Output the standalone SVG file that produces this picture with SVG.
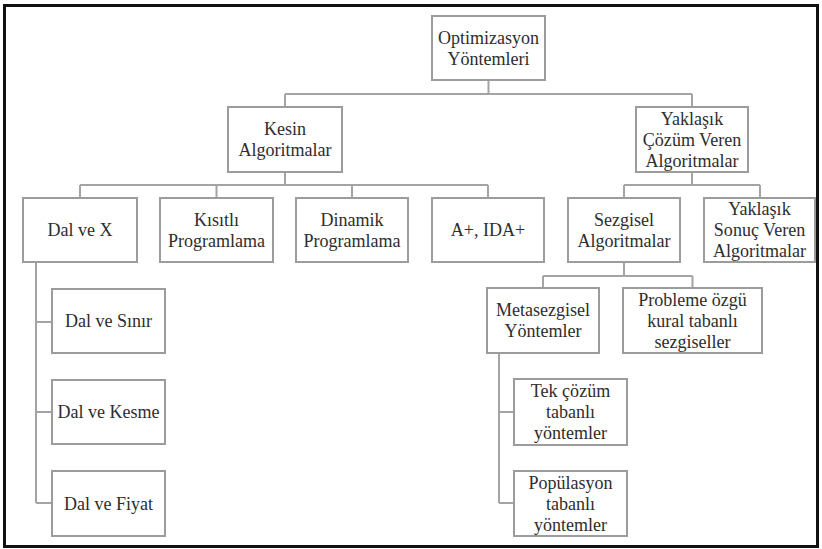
<svg xmlns="http://www.w3.org/2000/svg" width="822" height="549" viewBox="0 0 822 549">
<style>
.bg{fill:#ffffff}
.frame{fill:none;stroke:#111;stroke-width:3}
.box{fill:#ffffff;stroke:#9c9c9c;stroke-width:2}
.conn{fill:none;stroke:#a4a4a4;stroke-width:2}
.t{font-family:'Liberation Serif','Times New Roman',serif;font-size:19px;fill:#2e2e2e;text-anchor:middle}
</style>
<rect class="bg" x="0" y="0" width="822" height="549"/>
<rect class="frame" x="4.5" y="5.5" width="813" height="541"/>
<g id="connectors">
<path class="conn" d="M488.5,80 V94 M285,94 H692 M285,94 V107 M692,94 V107"/>
<path class="conn" d="M285,172 V185 M80,185 H488 M80,185 V198 M216.5,185 V198 M352,185 V198 M488,185 V198"/>
<path class="conn" d="M692,172 V185 M624,185 H760 M624,185 V198 M760,185 V198"/>
<path class="conn" d="M624,262 V276 M543,276 H692.5 M543,276 V288 M692.5,276 V288"/>
<path class="conn" d="M36,262 V503 M36,322 H52 M36,412 H52 M36,503 H52"/>
<path class="conn" d="M499,353 V503 M499,412 H514 M499,503 H514"/>
</g>
<g id="n-optimizasyon"><rect class="box" x="432" y="16" width="113" height="64"/><g class="t" transform="translate(488.5 0) scale(0.95 1)"><text x="0" y="44">Optimizasyon</text><text x="0" y="65">Yöntemleri</text></g></g>
<g id="n-kesin"><rect class="box" x="228" y="107" width="114" height="65"/><g class="t" transform="translate(285 0) scale(0.95 1)"><text x="0" y="135.5">Kesin</text><text x="0" y="156.5">Algoritmalar</text></g></g>
<g id="n-yaklasik-cozum"><rect class="box" x="636" y="107" width="112" height="65"/><g class="t" transform="translate(692 0) scale(0.95 1)"><text x="0" y="125">Yaklaşık</text><text x="0" y="146">Çözüm Veren</text><text x="0" y="167">Algoritmalar</text></g></g>
<g id="n-dalx"><rect class="box" x="23" y="198" width="114" height="64"/><g class="t" transform="translate(80 0) scale(0.95 1)"><text x="0" y="236.5">Dal ve X</text></g></g>
<g id="n-kisitli"><rect class="box" x="160" y="198" width="113" height="64"/><g class="t" transform="translate(216.5 0) scale(0.95 1)"><text x="0" y="226">Kısıtlı</text><text x="0" y="247">Programlama</text></g></g>
<g id="n-dinamik"><rect class="box" x="296" y="198" width="112" height="64"/><g class="t" transform="translate(352 0) scale(0.95 1)"><text x="0" y="226">Dinamik</text><text x="0" y="247">Programlama</text></g></g>
<g id="n-aplus"><rect class="box" x="432" y="198" width="112" height="64"/><g class="t" transform="translate(488 0) scale(0.95 1)"><text x="0" y="236.5">A+, IDA+</text></g></g>
<g id="n-sezgisel"><rect class="box" x="568" y="198" width="112" height="64"/><g class="t" transform="translate(624 0) scale(0.95 1)"><text x="0" y="226">Sezgisel</text><text x="0" y="247">Algoritmalar</text></g></g>
<g id="n-yaklasik-sonuc"><rect class="box" x="704" y="198" width="111" height="64"/><g class="t" transform="translate(759.5 0) scale(0.95 1)"><text x="0" y="215.5">Yaklaşık</text><text x="0" y="236.5">Sonuç Veren</text><text x="0" y="257.5">Algoritmalar</text></g></g>
<g id="n-metasezgisel"><rect class="box" x="487" y="288" width="112" height="65"/><g class="t" transform="translate(543 0) scale(0.95 1)"><text x="0" y="316.5">Metasezgisel</text><text x="0" y="337.5">Yöntemler</text></g></g>
<g id="n-probleme"><rect class="box" x="623" y="288" width="139" height="65"/><g class="t" transform="translate(692.5 0) scale(0.95 1)"><text x="0" y="306">Probleme özgü</text><text x="0" y="327">kural tabanlı</text><text x="0" y="348">sezgiseller</text></g></g>
<g id="n-sinir"><rect class="box" x="52" y="289" width="113" height="64"/><g class="t" transform="translate(108.5 0) scale(0.95 1)"><text x="0" y="327.5">Dal ve Sınır</text></g></g>
<g id="n-kesme"><rect class="box" x="52" y="380" width="113" height="64"/><g class="t" transform="translate(108.5 0) scale(0.95 1)"><text x="0" y="418.5">Dal ve Kesme</text></g></g>
<g id="n-fiyat"><rect class="box" x="52" y="471" width="113" height="65"/><g class="t" transform="translate(108.5 0) scale(0.95 1)"><text x="0" y="510">Dal ve Fiyat</text></g></g>
<g id="n-tek"><rect class="box" x="514" y="379" width="113" height="66"/><g class="t" transform="translate(570.5 0) scale(0.95 1)"><text x="0" y="397.5">Tek çözüm</text><text x="0" y="418.5">tabanlı</text><text x="0" y="439.5">yöntemler</text></g></g>
<g id="n-populasyon"><rect class="box" x="514" y="471" width="113" height="65"/><g class="t" transform="translate(570.5 0) scale(0.95 1)"><text x="0" y="489">Popülasyon</text><text x="0" y="510">tabanlı</text><text x="0" y="531">yöntemler</text></g></g>
</svg>
